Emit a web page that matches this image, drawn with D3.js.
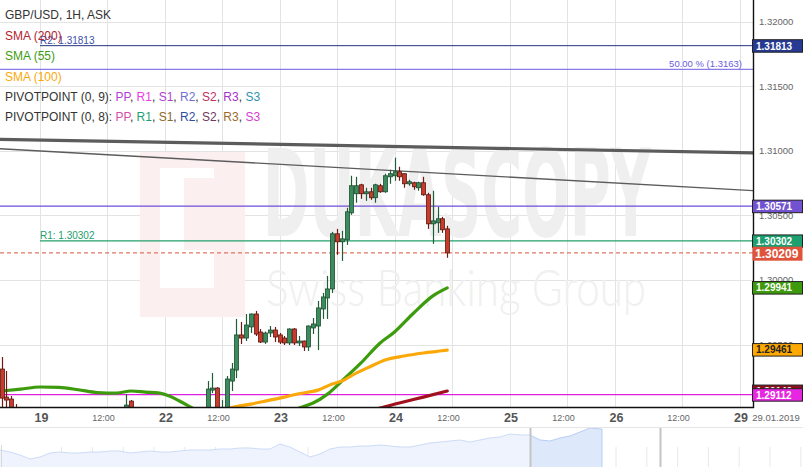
<!DOCTYPE html>
<html><head><meta charset="utf-8">
<script src="https://cdn.jsdelivr.net/npm/d3@7"></script>
<style>html,body{margin:0;padding:0;background:#fff;overflow:hidden}svg{display:block;font-family:"Liberation Sans",Arial,sans-serif}</style>
</head><body><svg id="c" width="803" height="467"></svg>
<script>
// ---------------- DATA ----------------
// hourly bars: index (0 = the "19" gridline), open/high/low/close
const barIdx = d3.range(-8, 86);
const barOpen = [1.29310,1.29093,1.29078,1.29000,1.2896,1.2890,1.2886,1.2883,1.2885,1.2881,1.2884,1.2887,1.2889,1.2886,1.2882,1.2878,1.2880,1.2883,1.2879,1.2876,1.2880,1.2885,1.2889,1.2887,1.2891,1.2893,1.2896,1.29062,1.2897,1.2889,1.2885,1.2888,1.2893,1.2896,1.2887,1.2880,1.2872,1.2866,1.2870,1.2876,1.2882,1.2887,1.2891,1.2895,1.29147,1.29163,1.2896,1.2899,1.29217,1.29302,1.29574,1.29550,1.29636,1.29736,1.29597,1.29519,1.29589,1.29612,1.29574,1.29550,1.29512,1.29620,1.29512,1.29527,1.29481,1.29628,1.29643,1.29775,1.29860,1.29930,1.30357,1.30295,1.30310,1.30519,1.30667,1.30736,1.30667,1.30682,1.30636,1.30729,1.30682,1.30798,1.30806,1.30837,1.30822,1.30744,1.30752,1.30713,1.30752,1.30659,1.30434,1.30442,1.30473,1.30395];
const barHigh = [1.29403,1.29295,1.29101,1.29039,1.2899,1.2895,1.2891,1.2888,1.2889,1.2886,1.2890,1.2893,1.2894,1.2891,1.2887,1.2884,1.2886,1.2889,1.2885,1.2882,1.2887,1.2892,1.2895,1.2893,1.2897,1.2898,1.29116,1.29070,1.2899,1.2895,1.2891,1.2896,1.29016,1.2899,1.2892,1.2886,1.2879,1.2874,1.2879,1.2884,1.2890,1.2894,1.2898,1.29217,1.29279,1.29170,1.29070,1.29256,1.29357,1.29698,1.29674,1.29736,1.29740,1.29760,1.29620,1.29600,1.29643,1.29636,1.29589,1.29566,1.29625,1.29628,1.29566,1.29530,1.29648,1.29705,1.29837,1.29899,1.30031,1.30372,1.30395,1.30380,1.30558,1.30806,1.30798,1.30744,1.30713,1.30713,1.30744,1.30744,1.30822,1.30853,1.30946,1.30876,1.30826,1.30775,1.30760,1.30760,1.30798,1.30674,1.30690,1.30566,1.30488,1.30419];
const barLow = [1.2895,1.2898,1.2893,1.2890,1.2888,1.2884,1.2880,1.2878,1.2879,1.2876,1.2880,1.2883,1.2884,1.2879,1.2876,1.2873,1.2875,1.2878,1.2872,1.2870,1.2875,1.2881,1.2884,1.2882,1.2886,1.2888,1.2892,1.2893,1.2886,1.2882,1.2879,1.2884,1.2888,1.2885,1.2877,1.2868,1.2862,1.2860,1.2865,1.2871,1.2878,1.2883,1.2886,1.2892,1.29124,1.2891,1.2890,1.2894,1.29140,1.29240,1.29504,1.29527,1.29589,1.29566,1.29512,1.29505,1.29558,1.29519,1.29504,1.29496,1.29496,1.29496,1.29488,1.29450,1.29450,1.29581,1.29457,1.29698,1.29698,1.29899,1.30194,1.30147,1.30271,1.30504,1.30597,1.30628,1.30612,1.30620,1.30597,1.30674,1.30674,1.30744,1.30767,1.30767,1.30713,1.30729,1.30698,1.30690,1.30651,1.30395,1.30279,1.30364,1.30364,1.30171];
const barClose = [1.29085,1.29070,1.2897,1.2896,1.2890,1.2886,1.2883,1.2885,1.2881,1.2884,1.2887,1.2889,1.2886,1.2882,1.2878,1.2880,1.2883,1.2879,1.2876,1.2880,1.2885,1.2889,1.2887,1.2891,1.2893,1.2896,1.29031,1.2897,1.2889,1.2885,1.2888,1.2893,1.2896,1.2887,1.2880,1.2872,1.2866,1.2870,1.2876,1.2882,1.2887,1.2891,1.2895,1.29155,1.29163,1.2896,1.2899,1.29233,1.29310,1.29574,1.29550,1.29651,1.29736,1.29581,1.29519,1.29589,1.29612,1.29558,1.29519,1.29512,1.29620,1.29512,1.29527,1.29481,1.29643,1.29659,1.29783,1.29868,1.29930,1.30357,1.30295,1.30318,1.30527,1.30729,1.30729,1.30667,1.30682,1.30636,1.30736,1.30682,1.30806,1.30822,1.30837,1.30798,1.30744,1.30760,1.30721,1.30752,1.30659,1.30434,1.30457,1.30473,1.30388,1.30209];

// moving averages (sampled)
const sma55Idx = [-8,-4,0,4,8,12,16,19,22,25,27,29,32,36,40,44,48,51,53,55,57,60,63,67,71,74,78,82,85];
const sma55Val = [1.29140,1.29155,1.29171,1.29168,1.29150,1.29128,1.29124,1.29140,1.29132,1.29124,1.29101,1.29065,1.29005,1.2893,1.2887,1.2884,1.2888,1.2894,1.2899,1.29020,1.29047,1.29116,1.29217,1.29357,1.29512,1.29597,1.29744,1.29876,1.29938];
const sma100Idx = [30,36,40,44,47,51,54,58,61,63,66,69,72,76,80,85];
const sma100Val = [1.2893,1.2897,1.29012,1.29039,1.29062,1.29093,1.29119,1.29147,1.29194,1.29217,1.29279,1.29330,1.29380,1.29411,1.29434,1.29457];
const sma200Idx = [60,66,71,75,80,85];
const sma200Val = [1.2892,1.2897,1.29008,1.29047,1.29093,1.29140];

// trend lines (two anchors each)
const trendThickIdx = [0,140], trendThickVal = [1.31082,1.30989];
const trendThinIdx = [0,140], trendThinVal = [1.30998,1.30709];

// horizontal levels
const pivotNames = ["R2","R1"];
const pivotValues = [1.31813,1.30302];
const fibLabel = "50.00 %";
const fibValue = 1.3163;
const levelPurple = 1.30571;
const levelMagenta = 1.29112;
const lastPrice = 1.30209;

// axes
const yTickValues = [1.32,1.315,1.31,1.305,1.30,1.295];
const xTickIdx = [0,14,26,38,50,62,74,86,98,110,120,134,146];
const xTickLabels = ["19","12:00","22","12:00","23","12:00","24","12:00","25","12:00","26","12:00","29"];
const currentDate = "29.01.2019";

// legend
const titleText = "GBP/USD, 1H, ASK";
const smaLegend = ["SMA (200)","SMA (55)","SMA (100)"];
const pivotLegendA = "PIVOTPOINT (0, 9): ";
const pivotLegendB = "PIVOTPOINT (0, 8): ";
const pivotLevelNames = ["PP","R1","S1","R2","S2","R3","S3"];

// navigator overview
const navValues = [1.284,1.280,1.274,1.266,1.270,1.278,1.280,1.278,1.278,1.280,1.280,1.282,1.282,1.278,1.280,1.282,1.280,1.280,1.282,1.284,1.284,1.284,1.286,1.286,1.288,1.288,1.286,1.286,1.296,1.290,1.280,1.270,1.276,1.286,1.290,1.290,1.292,1.292,1.294,1.292,1.290,1.290,1.294,1.298,1.300,1.302,1.304,1.300,1.304,1.308,1.310,1.316,1.314,1.314,1.304,1.302,1.308,1.312,1.320,1.328,1.326];
const navWindow = [53,66];

// ---------------- DRAW ----------------
const svg = d3.select("#c");
const plotR = 753, plotB = 407;
const x = d3.scaleLinear().domain([0,146]).range([40,739.5]);
const y = d3.scaleLinear().domain([1.29,1.32]).range([409.1,21.5]);

svg.append("rect").attr("width",803).attr("height",467).attr("fill","#fff");
const defs = svg.append("defs");
defs.append("clipPath").attr("id","plot").append("rect").attr("x",0).attr("y",0).attr("width",plotR).attr("height",plotB);

const plot = svg.append("g").attr("clip-path","url(#plot)");

// grid
plot.selectAll(".hg").data(yTickValues).join("line")
  .attr("x1",0).attr("x2",plotR).attr("y1",d=>Math.round(y(d))+0.5).attr("y2",d=>Math.round(y(d))+0.5)
  .attr("stroke","#e3e3e3").attr("stroke-width",1);
plot.selectAll(".vg").data(xTickIdx).join("line")
  .attr("x1",d=>Math.round(x(d))+0.5).attr("x2",d=>Math.round(x(d))+0.5).attr("y1",0).attr("y2",plotB)
  .attr("stroke","#e3e3e3").attr("stroke-width",1);

// watermark
const wm = plot.append("g");
wm.append("rect").attr("x",140).attr("y",152).attr("width",105).attr("height",165).attr("fill","#fcefef");
wm.append("rect").attr("x",160).attr("y",168).attr("width",24).attr("height",120).attr("fill","#fff");
wm.append("rect").attr("x",184).attr("y",168).attr("width",30).attr("height",10).attr("fill","#fff");
wm.append("rect").attr("x",184).attr("y",250).attr("width",30).attr("height",38).attr("fill","#fff");
wm.append("text").attr("x",263).attr("y",236).attr("font-size",122).attr("font-weight","bold")
  .attr("font-family","'DejaVu Sans Condensed','Liberation Sans Narrow','Liberation Sans',sans-serif")
  .attr("textLength",388).attr("lengthAdjust","spacingAndGlyphs").attr("fill","#efefef").text("DUKASCOPY");
wm.append("text").attr("x",266).attr("y",306).attr("font-size",52).attr("font-weight",300)
  .attr("font-family","Lato,Roboto,'Open Sans',sans-serif")
  .attr("textLength",380).attr("lengthAdjust","spacingAndGlyphs").attr("fill","#f0f0f0").text("Swiss Banking Group");

// horizontal levels
const hline = (v, x0, color, w, dash) => plot.append("line").attr("x1",x0).attr("x2",plotR)
  .attr("y1",y(v)).attr("y2",y(v)).attr("stroke",color).attr("stroke-width",w).attr("stroke-dasharray",dash||null);
hline(pivotValues[0], x(0), "#25357f", 1);
hline(fibValue, 0, "#6c5ce0", 1);
hline(levelPurple, 0, "#6e4fd8", 1.2);
hline(pivotValues[1], x(0), "#22a06b", 1.2);
hline(lastPrice, 0, "#d8553a", 1, "4,3");
hline(levelMagenta, 0, "#e020e0", 1.2);

plot.append("text").attr("x",x(0)).attr("y",y(pivotValues[0])-1.5).attr("font-size",10).attr("fill","#3c4fa8").text(pivotNames[0]+": "+pivotValues[0].toFixed(5));
plot.append("text").attr("x",x(0)).attr("y",y(pivotValues[1])-1.5).attr("font-size",10).attr("fill","#22a06b").text(pivotNames[1]+": "+pivotValues[1].toFixed(5));
plot.append("text").attr("x",742).attr("y",y(fibValue)-2).attr("text-anchor","end").attr("font-size",9.5).attr("fill","#6c5ce0").text(fibLabel+" ("+fibValue.toFixed(4)+")");

// trend lines extended over the full plot
const extLine = (idx, val, color, w) => {
  const slope = (val[1]-val[0])/(idx[1]-idx[0]);
  const i0 = x.invert(0), i1 = x.invert(plotR);
  plot.append("line").attr("x1",0).attr("x2",plotR)
    .attr("y1",y(val[0]+slope*(i0-idx[0]))).attr("y2",y(val[0]+slope*(i1-idx[0])))
    .attr("stroke",color).attr("stroke-width",w);
};
extLine(trendThickIdx, trendThickVal, "#5c5c5c", 3.2);
extLine(trendThinIdx, trendThinVal, "#5c5c5c", 1.4);

// SMAs
const smaLine = (ix, vals, color) => plot.append("path")
  .datum(ix.map((d,i)=>[d,vals[i]]))
  .attr("d", d3.line().x(d=>x(d[0])).y(d=>y(d[1])).curve(d3.curveMonotoneX))
  .attr("fill","none").attr("stroke",color).attr("stroke-width",3.2).attr("stroke-linecap","round");
smaLine(sma55Idx, sma55Val, "#3d9c0e");
smaLine(sma100Idx, sma100Val, "#fba90a");
smaLine(sma200Idx, sma200Val, "#a1101d");

// candles
const bars = barIdx.map((d,i)=>({i:d,o:barOpen[i],h:barHigh[i],l:barLow[i],c:barClose[i]}));
const cg = plot.append("g");
cg.selectAll(".wick").data(bars).join("line")
  .attr("x1",d=>Math.round(x(d.i))+0.5).attr("x2",d=>Math.round(x(d.i))+0.5)
  .attr("y1",d=>y(d.h)).attr("y2",d=>y(d.l))
  .attr("stroke",d=>d.c>=d.o?"#1f5c38":"#6e1a12").attr("stroke-width",1.2);
cg.selectAll(".body").data(bars).join("rect")
  .attr("x",d=>Math.round(x(d.i))-1.5).attr("width",4)
  .attr("y",d=>y(Math.max(d.o,d.c))).attr("height",d=>Math.max(1.5,y(Math.min(d.o,d.c))-y(Math.max(d.o,d.c))))
  .attr("fill",d=>d.c>=d.o?"#3a8c5c":"#c83a2b")
  .attr("stroke",d=>d.c>=d.o?"#1d4d31":"#5a1810").attr("stroke-width",0.8);

// frame
svg.append("line").attr("x1",plotR+0.5).attr("x2",plotR+0.5).attr("y1",0).attr("y2",plotB+1).attr("stroke","#111").attr("stroke-width",1.4);
svg.append("line").attr("x1",0).attr("x2",plotR+1).attr("y1",plotB+0.5).attr("y2",plotB+0.5).attr("stroke","#111").attr("stroke-width",1.4);

// right axis tick labels
svg.selectAll(".yt").data(yTickValues).join("text")
  .attr("x",759).attr("y",d=>y(d)+3.5).attr("font-size",9.5).attr("fill","#666").text(d=>d.toFixed(5));

// price boxes
const box = (v, fill, txtColor, big) => {
  const h = big?14:12.5, cy = y(v)+(big?0.8:0.3);
  svg.append("rect").attr("x",752.5).attr("y",cy-h/2).attr("width",50).attr("height",h)
    .attr("fill",fill).attr("stroke",big?fill:"#222").attr("stroke-width",big?0:1);
  svg.append("text").attr("x",big?755:756).attr("y",cy+(big?4.3:3.6)).attr("font-size",big?12:10)
    .attr("font-weight","bold").attr("fill",txtColor).text(v.toFixed(5));
};
box(pivotValues[0], "#263a93", "#fff");
box(levelPurple, "#7352d2", "#fff");
box(pivotValues[1], "#1d9f6f", "#fff");
box(lastPrice, "#e0533b", "#fff", true);
box(sma55Val[sma55Val.length-1]+0.00003, "#3c9a0c", "#fff");
box(sma100Val[sma100Val.length-1]+0.00004, "#ffa800", "#222");
box(sma200Val[sma200Val.length-1], "#8e0f1c", "#fff");
box(levelMagenta, "#e626e0", "#fff");

// x axis labels
svg.selectAll(".xt").data(xTickIdx).join("text")
  .attr("x",(d,i)=>x(d)+(xTickLabels[i].includes(":")?-3.5:1.5))
  .attr("y",(d,i)=>xTickLabels[i].includes(":")?420.5:421.5)
  .attr("text-anchor","middle")
  .attr("font-size",(d,i)=>xTickLabels[i].includes(":")?9:12.5)
  .attr("font-weight",(d,i)=>xTickLabels[i].includes(":")?"normal":"bold")
  .attr("fill",(d,i)=>xTickLabels[i].includes(":")?"#666":"#555")
  .text((d,i)=>xTickLabels[i]);
svg.append("text").attr("x",776).attr("y",420.5).attr("text-anchor","middle").attr("font-size",9.5).attr("fill","#666").text(currentDate);

// legend
const lg = svg.append("g").attr("font-size",12);
lg.append("text").attr("x",5).attr("y",19).attr("fill","#333").text(titleText);
const smaColors = ["#b3222e","#3d9c0e","#fba90a"];
smaLegend.forEach((t,i)=>lg.append("text").attr("x",5).attr("y",40+i*20.3).attr("fill",smaColors[i]).text(t));
const colA = ["#b23fd4","#e83ee6","#b23fd4","#6f6fd6","#c2305f","#a633c6","#2f92b3"];
const colB = ["#d64fa8","#1f9f74","#8b6a2b","#2f4da0","#6f3a5f","#9c6b2a","#d63ed3"];
[[pivotLegendA,colA,100.5],[pivotLegendB,colB,121]].forEach(([lab,cols,yy])=>{
  const t = lg.append("text").attr("x",5).attr("y",yy).attr("fill","#333");
  t.append("tspan").text(lab);
  pivotLevelNames.forEach((n,i)=>{
    t.append("tspan").attr("fill",cols[i]).text(n);
    if(i<pivotLevelNames.length-1) t.append("tspan").attr("fill","#333").text(", ");
  });
});

// navigator
const nav = svg.append("g");
nav.append("line").attr("x1",0).attr("x2",803).attr("y1",427.5).attr("y2",427.5).attr("stroke","#e6e6e6");
const nx = d3.scaleLinear().domain([0,60]).range([0,600]);
const ny = d3.scaleLinear().domain([1.25,1.33]).range([467,427]);
const navPts = navValues.map((v,i)=>[i,v]);
navPts.push([60.2, navValues[60]]);
const area = d3.area().x(d=>nx(d[0])).y0(467).y1(d=>ny(d[1]));
const line = d3.line().x(d=>nx(d[0])).y(d=>ny(d[1]));
defs.append("clipPath").attr("id","navL").append("rect").attr("x",0).attr("y",428).attr("width",nx(navWindow[0])).attr("height",40);
defs.append("clipPath").attr("id","navW").append("rect").attr("x",nx(navWindow[0])).attr("y",428).attr("width",nx(navWindow[1])-nx(navWindow[0])).attr("height",40);
// background ticks
const navTicks = d3.range(2, 27).map(k=>k*30.8);
nav.selectAll(".nt").data(navTicks).join("line").attr("x1",d=>d).attr("x2",d=>d).attr("y1",447).attr("y2",467).attr("stroke","#e8e8e8");
nav.append("path").datum(navPts).attr("clip-path","url(#navL)").attr("d",area).attr("fill","#eef3fd");
nav.append("path").datum(navPts).attr("clip-path","url(#navL)").attr("d",line).attr("fill","none").attr("stroke","#cddcf7");
nav.append("path").datum(navPts).attr("clip-path","url(#navW)").attr("d",area).attr("fill","#dde8fb");
nav.append("path").datum(navPts).attr("clip-path","url(#navW)").attr("d",line).attr("fill","none").attr("stroke","#b7cdf4");
nav.append("line").attr("x1",nx(60.2)).attr("x2",nx(60.2)).attr("y1",ny(navValues[60])).attr("y2",467).attr("stroke","#b7cdf4");
navWindow.forEach(w=>nav.append("line").attr("x1",nx(w)+0.5).attr("x2",nx(w)+0.5).attr("y1",428).attr("y2",467).attr("stroke","#c4c4c4").attr("stroke-width",2));
nav.append("line").attr("x1",1.5).attr("x2",1.5).attr("y1",445).attr("y2",467).attr("stroke","#d8d8d8").attr("stroke-width",1);
</script></body></html>
